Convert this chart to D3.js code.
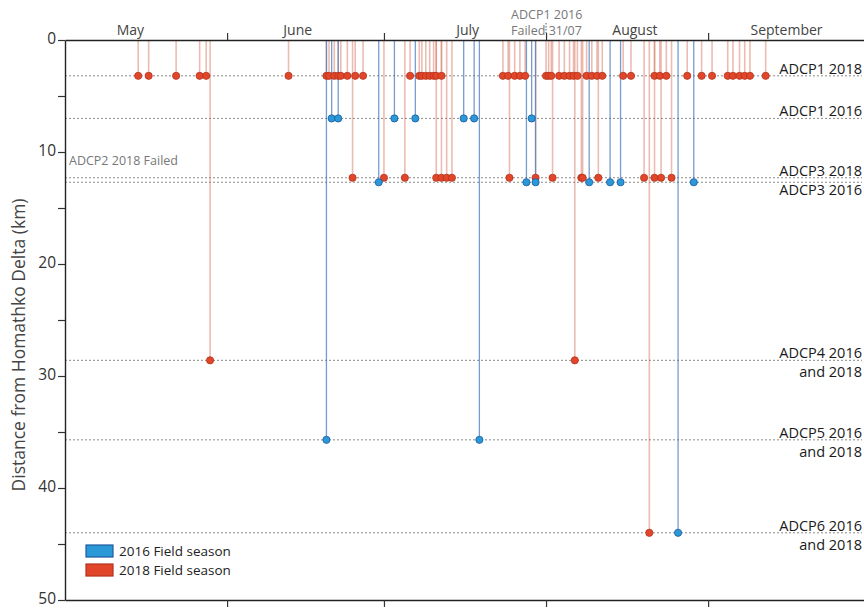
<!DOCTYPE html>
<html>
<head>
<meta charset="utf-8">
<script src="https://cdn.jsdelivr.net/npm/d3@7"></script>
<style>
  html, body { margin: 0; padding: 0; background: #fff; }
  svg { display: block; font-family: "Open Sans", "Noto Sans", sans-serif; }
</style>
</head>
<body>
<svg id="chart" width="864" height="608"></svg>
<script>
// ---------------- DATA ----------------
const monthLabels = ["May", "June", "July", "August", "September"];
const monthLabelAnchors = ["2018-05-13T12:00", "2018-06-14T12:00", "2018-07-17T00:00", "2018-08-18T00:00", "2018-09-16T00:00"];
const monthTicks = ["2018-06-01T00:00", "2018-07-01T00:00", "2018-08-01T00:00", "2018-09-01T00:00"];
const yTicks = [0, 5, 10, 15, 20, 25, 30, 35, 40, 45, 50];

// ADCP moorings: label lines and distance from delta (km)
const siteIds = ["ADCP1_2018", "ADCP1_2016", "ADCP3_2018", "ADCP3_2016", "ADCP4", "ADCP5", "ADCP6"];
const siteKm = [3.2, 7.0, 12.3, 12.7, 28.6, 35.7, 44.0];
const siteLabelLines = [["ADCP1 2018"], ["ADCP1 2016"], ["ADCP3 2018"], ["ADCP3 2016"],
  ["ADCP4 2016", "and 2018"], ["ADCP5 2016", "and 2018"], ["ADCP6 2016", "and 2018"]];
const siteLabelBelow = [false, false, false, true, false, false, false];

const failedAdcp2Text = "ADCP2 2018 Failed";
const failedAdcp2Km = 11.0;
const failedAdcp1Text = ["ADCP1 2016", "Failed 31/07"];
const failedAdcp1Date = "2018-08-01T00:00";

// 2016 field season events
const ev2016_ADCP1 = ["2016-06-21T00:00", "2016-06-22T06:00", "2016-07-03T00:00", "2016-07-07T00:00",
  "2016-07-16T06:00", "2016-07-18T06:00", "2016-07-29T06:00"];
const ev2016_ADCP3 = ["2016-06-30T00:00", "2016-07-28T06:00", "2016-07-30T00:00", "2016-08-09T06:00",
  "2016-08-13T06:00", "2016-08-15T06:00", "2016-08-29T06:00"];
const ev2016_ADCP5 = ["2016-06-20T00:00", "2016-07-19T06:00"];
const ev2016_ADCP6 = ["2016-08-26T06:00"];

// 2018 field season events
const ev2018_ADCP1 = ["2018-05-15T00:00", "2018-05-17T00:00", "2018-05-22T06:00", "2018-05-26T18:00",
  "2018-05-28T00:00", "2018-06-12T18:00", "2018-06-20T00:00", "2018-06-20T12:00", "2018-06-21T12:00",
  "2018-06-22T06:00", "2018-06-22T18:00", "2018-06-24T00:00", "2018-06-25T12:00", "2018-06-27T00:00",
  "2018-07-06T00:00", "2018-07-07T18:00", "2018-07-08T06:00", "2018-07-09T00:00", "2018-07-09T18:00",
  "2018-07-10T12:00", "2018-07-11T00:00", "2018-07-12T00:00", "2018-07-23T18:00", "2018-07-24T18:00",
  "2018-07-26T00:00", "2018-07-27T00:00", "2018-07-28T00:00", "2018-08-01T00:00", "2018-08-01T12:00",
  "2018-08-02T00:00", "2018-08-03T12:00", "2018-08-04T12:00", "2018-08-05T12:00", "2018-08-06T06:00",
  "2018-08-07T00:00", "2018-08-08T18:00", "2018-08-09T18:00", "2018-08-10T18:00", "2018-08-11T18:00",
  "2018-08-15T18:00", "2018-08-17T06:00", "2018-08-21T18:00", "2018-08-22T18:00", "2018-08-24T00:00",
  "2018-08-28T00:00", "2018-08-30T18:00", "2018-09-01T18:00", "2018-09-04T18:00", "2018-09-05T18:00",
  "2018-09-07T00:00", "2018-09-08T00:00", "2018-09-09T00:00", "2018-09-12T00:00"];
const ev2018_ADCP3 = ["2018-06-25T00:00", "2018-07-01T00:00", "2018-07-05T00:00", "2018-07-11T00:00",
  "2018-07-12T00:00", "2018-07-13T00:00", "2018-07-14T00:00", "2018-07-25T00:00", "2018-07-30T00:00",
  "2018-08-02T06:00", "2018-08-07T18:00", "2018-08-08T00:00", "2018-08-11T00:00", "2018-08-19T18:00",
  "2018-08-21T18:00", "2018-08-23T00:00", "2018-08-25T00:00"];
const ev2018_ADCP4 = ["2018-05-28T18:00", "2018-08-06T12:00"];
const ev2018_ADCP6 = ["2018-08-20T18:00"];

const seasons = ["2016 Field season", "2018 Field season"];

// ---------------- BUILD ----------------
const parse = d3.timeParse("%Y-%m-%dT%H:%M");
const toSeason = s => { const d = parse(s); return new Date(2018, d.getMonth(), d.getDate(), d.getHours(), d.getMinutes()); };
const kmOf = id => siteKm[siteIds.indexOf(id)];

const events = [];
const add = (arr, site, season) => arr.forEach(t => events.push({ t: toSeason(t), km: kmOf(site), season }));
add(ev2018_ADCP1, "ADCP1_2018", 2018);
add(ev2018_ADCP3, "ADCP3_2018", 2018);
add(ev2018_ADCP4, "ADCP4", 2018);
add(ev2018_ADCP6, "ADCP6", 2018);
add(ev2016_ADCP1, "ADCP1_2016", 2016);
add(ev2016_ADCP3, "ADCP3_2016", 2016);
add(ev2016_ADCP5, "ADCP5", 2016);
add(ev2016_ADCP6, "ADCP6", 2016);

const svg = d3.select("#chart");
const mLeft = 65, mRight = 865, mTop = 40, mBottom = 600;

const x = d3.scaleTime().domain([new Date(2018, 4, 1), new Date(2018, 9, 1)]).range([mLeft, mRight]);
const y = d3.scaleLinear().domain([0, 50]).range([mTop, mBottom]);

const colors = {
  2016: { fill: "#2b98d8", stroke: "#1b5b9e", stem: "#3f72bb" },
  2018: { fill: "#e2462a", stroke: "#b3321b", stem: "#d46a55" }
};

// Reference dotted lines
svg.append("g").selectAll("line").data(siteKm).join("line")
  .attr("x1", mLeft).attr("x2", 862)
  .attr("y1", d => y(d)).attr("y2", d => y(d))
  .attr("stroke", "#8a8a8a").attr("stroke-width", 1).attr("stroke-dasharray", "2,2");

// Stems
svg.append("g").selectAll("line").data(events).join("line")
  .attr("x1", d => x(d.t)).attr("x2", d => x(d.t))
  .attr("y1", y(0)).attr("y2", d => y(d.km))
  .attr("stroke", d => colors[d.season].stem)
  .attr("stroke-width", d => d.season === 2016 ? 1.3 : 1.6)
  .attr("stroke-opacity", d => d.season === 2016 ? 0.7 : 0.45);

// Dots
svg.append("g").selectAll("circle").data(events).join("circle")
  .attr("cx", d => x(d.t)).attr("cy", d => y(d.km)).attr("r", 3.6)
  .attr("fill", d => colors[d.season].fill)
  .attr("stroke", d => colors[d.season].stroke).attr("stroke-width", 0.8);

// Axes
const tickDates = monthTicks.map(parse);
const topAxis = svg.append("g").attr("transform", `translate(0,${mTop})`)
  .call(d3.axisTop(x).tickValues(tickDates).tickFormat("").tickSize(7).tickSizeOuter(0));
const bottomAxis = svg.append("g").attr("transform", `translate(0,${mBottom})`)
  .call(d3.axisBottom(x).tickValues(tickDates).tickFormat("").tickSize(7).tickSizeOuter(0));
const leftAxis = svg.append("g").attr("transform", `translate(${mLeft},0)`)
  .call(d3.axisLeft(y).tickValues(yTicks).tickFormat(d => d % 10 === 0 ? d : "").tickSize(7).tickSizeOuter(0));
[topAxis, bottomAxis, leftAxis].forEach(g => {
  g.select(".domain").attr("stroke", "#222").attr("stroke-width", 1.4);
  g.selectAll(".tick line").attr("stroke", "#333").attr("stroke-width", 1.2);
});
leftAxis.selectAll(".tick text").attr("font-size", 15.5).attr("fill", "#333")
  .attr("font-family", "Open Sans, sans-serif").attr("x", -9).attr("dy", "0.2em");

// Month labels
svg.append("g").selectAll("text").data(monthLabels).join("text")
  .attr("x", (d, i) => x(parse(monthLabelAnchors[i]))).attr("y", 35)
  .attr("text-anchor", "middle").attr("font-size", 14).attr("fill", "#444")
  .text(d => d);

// Y title
svg.append("text")
  .attr("transform", `translate(25,345) rotate(-90)`)
  .attr("text-anchor", "middle").attr("font-size", 17.5).attr("fill", "#444")
  .text("Distance from Homathko Delta (km)");

// Site labels on the right
const lab = svg.append("g").attr("font-size", 14.5).attr("fill", "#1a1a1a").attr("text-anchor", "end");
siteKm.forEach((km, i) => {
  const base = siteLabelBelow[i] ? y(km) + 12.5 : y(km) - 2;
  siteLabelLines[i].forEach((line, j) => {
    lab.append("text").attr("x", 862).attr("y", base + j * 19).text(line);
  });
});

// Failed annotations
svg.append("text").attr("x", 69).attr("y", y(failedAdcp2Km) + 2)
  .attr("font-size", 12.5).attr("fill", "#777").text(failedAdcp2Text);

const fx = x(parse(failedAdcp1Date));
svg.append("g").attr("font-size", 12.5).attr("fill", "#777")
  .selectAll("text").data(failedAdcp1Text).join("text")
  .attr("x", fx - 35).attr("y", (d, i) => 19 + i * 16).text(d => d);
svg.append("line").attr("x1", fx).attr("x2", fx).attr("y1", 23).attr("y2", 33)
  .attr("stroke", "#555").attr("stroke-dasharray", "1.5,1.5");

// Legend
const leg = svg.append("g").attr("transform", "translate(86,545)");
seasons.forEach((s, i) => {
  const c = colors[i === 0 ? 2016 : 2018];
  leg.append("rect").attr("x", 0).attr("y", i * 19).attr("width", 27).attr("height", 12)
    .attr("fill", c.fill).attr("stroke", c.stroke).attr("stroke-width", 1.2);
  leg.append("text").attr("x", 33).attr("y", i * 19 + 11).attr("font-size", 13.5).attr("fill", "#222").text(s);
});
</script>
</body>
</html>
